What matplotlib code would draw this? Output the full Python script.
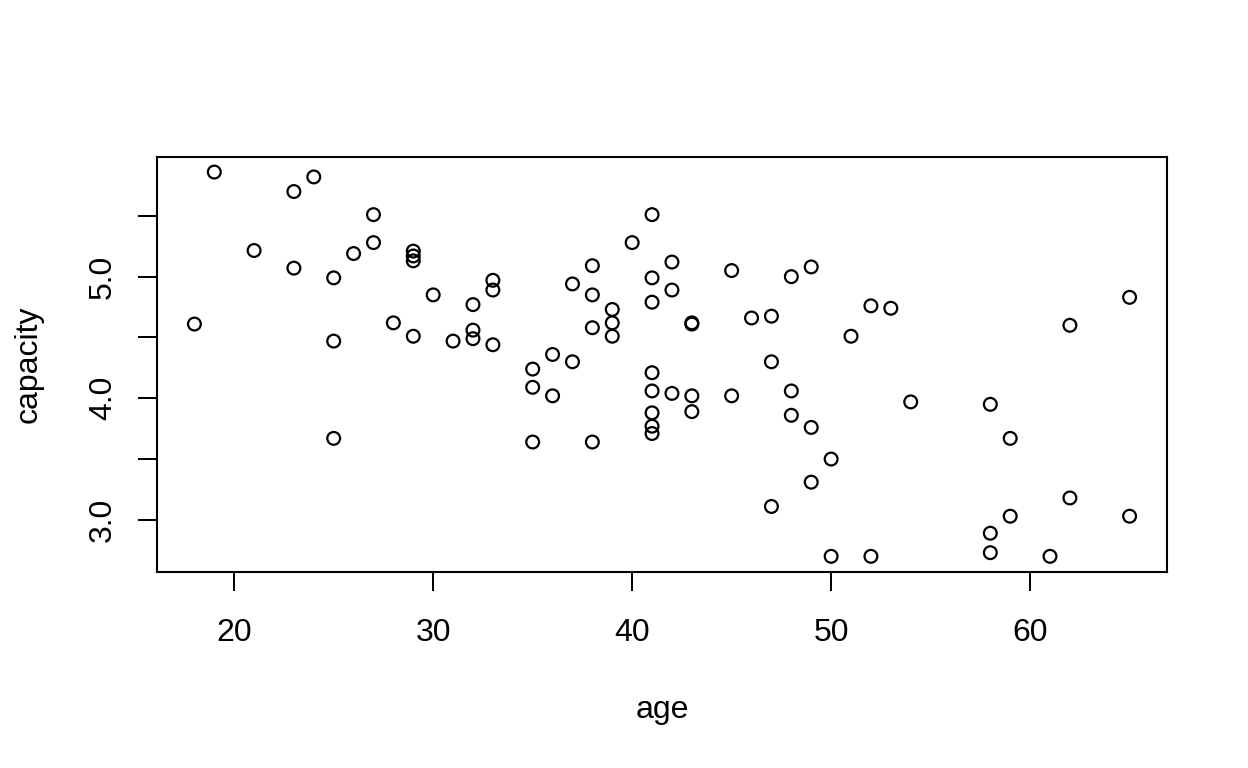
import matplotlib
matplotlib.use("Agg")
import matplotlib.pyplot as plt
import numpy as np

# values (age vs capacity)
age = [18, 19, 21, 23, 23, 24, 25, 25, 25, 26, 27, 27, 28, 29, 29, 29, 29,
       30, 31, 32, 32, 32, 33, 33, 33, 35, 35, 35, 36, 36, 37, 37, 38, 38,
       38, 38, 39, 39, 39, 40, 41, 41, 41, 41, 41, 41, 41, 41, 42, 42, 42,
       43, 43, 43, 43, 45, 45, 46, 47, 47, 47, 48, 48, 48, 49, 49, 49, 50,
       50, 51, 52, 52, 53, 54, 58, 58, 58, 59, 59, 61, 62, 62, 65, 65]
capacity = [4.61, 5.86, 5.215, 5.70, 5.07, 5.82, 4.99, 4.47, 3.67, 5.19,
            5.51, 5.28, 4.62, 5.21, 5.17, 5.13, 4.51, 4.85, 4.47, 4.77,
            4.56, 4.49, 4.97, 4.89, 4.44, 4.24, 4.09, 3.64, 4.36, 4.02,
            4.94, 4.30, 5.09, 4.85, 4.58, 3.64, 4.73, 4.62, 4.51, 5.28,
            5.51, 4.99, 4.79, 4.21, 4.06, 3.88, 3.77, 3.71, 5.12, 4.89,
            4.04, 4.61, 4.62, 4.02, 3.89, 5.05, 4.02, 4.66, 4.675, 4.30,
            3.11, 5.00, 4.06, 3.86, 5.08, 3.76, 3.31, 3.50, 2.70, 4.51,
            4.76, 2.70, 4.74, 3.97, 3.95, 2.89, 2.73, 3.67, 3.03, 2.70,
            4.60, 3.18, 4.83, 3.03]

x_ticks = [20, 30, 40, 50, 60]
y_ticks = [3.0, 3.5, 4.0, 4.5, 5.0, 5.5]
y_labels = ["3.0", "", "4.0", "", "5.0", ""]

plt.rcParams['font.family'] = ['Liberation Sans', 'DejaVu Sans']

fig = plt.figure(figsize=(12.48, 7.68), dpi=100)
ax = fig.add_axes([157 / 1248, 1 - 571.7 / 768, 1010 / 1248, 415 / 768])

ax.scatter(age, capacity, s=9.2 ** 2, facecolors='none', edgecolors='black',
           linewidths=1.6)


def r_limits(v):
    # R style: data range padded by 4% on each side
    lo, hi = min(v), max(v)
    pad = (hi - lo) * 0.04
    return lo - pad, hi + pad


ax.set_xlim(*r_limits(age))
ax.set_ylim(*r_limits(capacity))

for s in ax.spines.values():
    s.set_linewidth(1.5)

ax.set_xticks(x_ticks)
ax.set_xticklabels([str(t) for t in x_ticks])
ax.set_yticks(y_ticks)
ax.set_yticklabels(y_labels, rotation=90, va='center')
ax.tick_params(axis='both', direction='out', length=13.7, width=1.44,
               labelsize=23)
ax.tick_params(axis='x', pad=19.5)
ax.tick_params(axis='y', pad=14.5)

fig.text(662 / 1248, 1 - 718 / 768, "age", ha='center', va='baseline',
         fontsize=23)
fig.text(29 / 1248, 1 - 364 / 768, "capacity", ha='center', va='center',
         rotation=90, fontsize=23)

fig.savefig("out.png", dpi=100)
